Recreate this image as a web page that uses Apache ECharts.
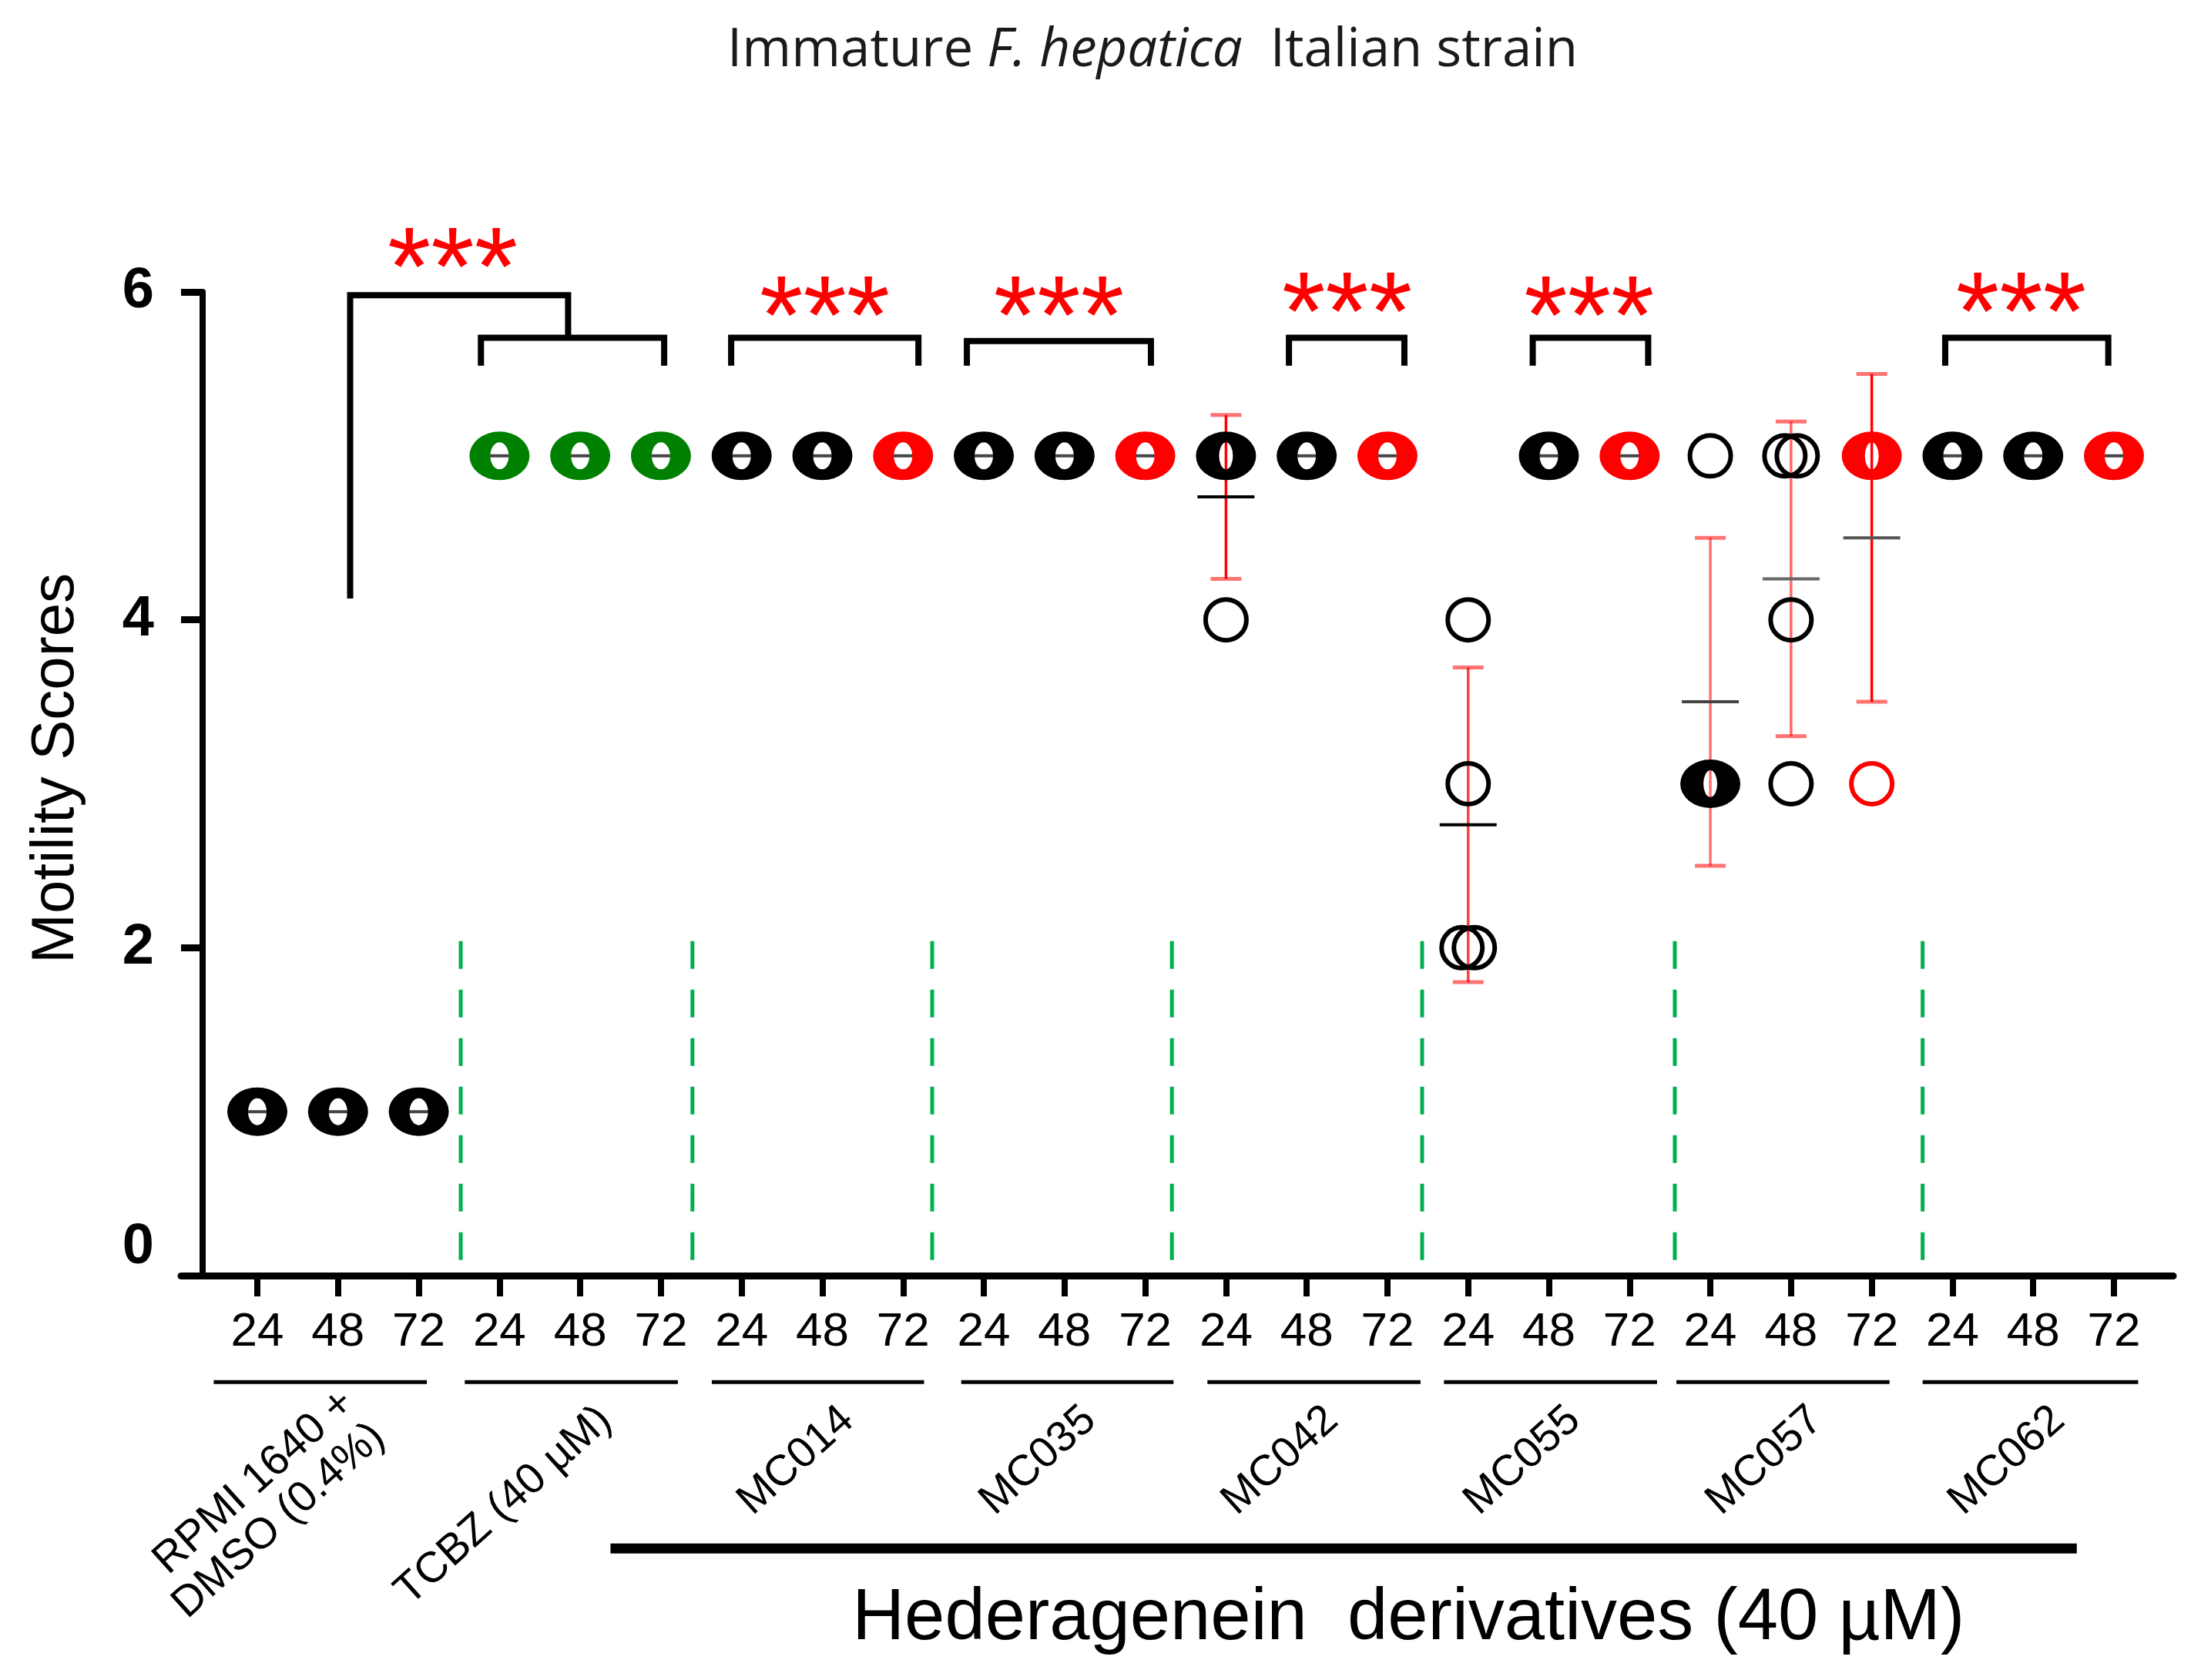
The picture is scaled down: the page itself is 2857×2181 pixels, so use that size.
<!DOCTYPE html>
<html><head><meta charset="utf-8">
<script src="https://cdn.jsdelivr.net/npm/echarts@6/dist/echarts.min.js"></script>
<style>html,body{margin:0;padding:0;background:#fff}#chart{width:2857px;height:2181px}</style>
</head><body><div id="chart"></div>
<script>
// ---------- data ----------
const treatments = ['RPMI 1640 +\nDMSO (0.4%)', 'TCBZ (40 µM)', 'MC014', 'MC035', 'MC042', 'MC055', 'MC057', 'MC062'];
const hours = ['24', '48', '72'];
// individual motility scores (4 flukes) at 24, 48, 72 h
const scoresRPMI  = [[1,1,1,1],[1,1,1,1],[1,1,1,1]];
const scoresTCBZ  = [[5,5,5,5],[5,5,5,5],[5,5,5,5]];
const scoresMC014 = [[5,5,5,5],[5,5,5,5],[5,5,5,5]];
const scoresMC035 = [[5,5,5,5],[5,5,5,5],[5,5,5,5]];
const scoresMC042 = [[5,5,5,4],[5,5,5,5],[5,5,5,5]];
const scoresMC055 = [[4,3,2,2],[5,5,5,5],[5,5,5,5]];
const scoresMC057 = [[5,3,3,3],[5,5,4,3],[5,5,5,3]];
const scoresMC062 = [[5,5,5,5],[5,5,5,5],[5,5,5,5]];
// mean and SD
const meanValues = [1,1,1, 5,5,5, 5,5,5, 5,5,5, 4.75,5,5, 2.75,5,5, 3.5,4.25,4.5, 5,5,5];
const sdValues   = [0,0,0, 0,0,0, 0,0,0, 0,0,0, 0.5,0,0, 0.96,0,0, 1,0.96,1, 0,0,0];
const yTickValues = [0, 2, 4, 6];
const sigLabel = '***';

// ---------- annotation geometry (axis units) ----------
const separatorX = [2.52, 5.39, 8.36, 11.33, 14.43, 17.56, 20.63];
const separatorSpan = [0.06, 2.04];
const brackets = [[2.77,5.04,5.72],[5.87,8.19,5.72],[8.79,11.07,5.70],[12.78,14.21,5.72],[15.80,17.23,5.72],[20.91,22.93,5.72]];
const bracketFoot = 5.55;
const controlLink = [[1.15,4.13],[1.15,5.98],[3.85,5.98],[3.85,5.72]];
const starPos = [[2.42,6.26],[7.03,5.96],[9.93,5.96],[13.5,5.985],[16.5,5.96],[21.85,5.985]];
const groupUnderline = [[-0.54,2.10],[2.57,5.21],[5.63,8.26],[8.72,11.35],[11.77,14.41],[14.70,17.34],[17.58,20.22],[20.63,23.30]];
const underlineY = -0.65;
const derivBar = [4.375, 22.54, -1.664];
const derivText = [14.26, -2.094, 'Hederagenein  derivatives (40 µM)'];

// ---------- derived ----------
const allScores = [].concat(scoresRPMI, scoresTCBZ, scoresMC014, scoresMC035, scoresMC042, scoresMC055, scoresMC057, scoresMC062);
const tickPos = allScores.map((_, i) => i);
const clusters = [];
allScores.forEach((arr, i) => {
  const counts = {};
  arr.forEach(v => { counts[v] = (counts[v] || 0) + 1; });
  Object.keys(counts).forEach(v => clusters.push([i, +v, counts[v]]));
});
const meanData = meanValues.map((m, i) => [i, m]);
const errData = [];
meanValues.forEach((m, i) => { if (sdValues[i] > 0) errData.push([i, m, sdValues[i]]); });

// ---------- styling ----------
const FONT = '"Liberation Sans", Arial, sans-serif';
function pointColor(i) {
  const g = Math.floor(i / 3), h = i % 3;
  if (g === 1) return '#008000';
  if (g >= 2 && h === 2) return '#ff0000';
  return '#000000';
}
const errOpacity = {12: 1, 15: 0.75, 18: 0.55, 19: 0.6, 20: 1};
const meanColor = {12: '#000', 15: '#000', 18: '#444', 19: '#666', 20: '#555'};
function ell(cx, cy, rx, ry, sweep) {
  return 'M' + (cx - rx) + ' ' + cy + ' A' + rx + ' ' + ry + ' 0 1 ' + sweep + ' ' + (cx + rx) + ' ' + cy +
         ' A' + rx + ' ' + ry + ' 0 1 ' + sweep + ' ' + (cx - rx) + ' ' + cy + ' Z ';
}
function circ(cx, cy, color) {
  return {type: 'circle', shape: {cx: cx, cy: cy, r: 26.5}, style: {fill: 'none', stroke: color, lineWidth: 6}};
}

const chart = echarts.init(document.getElementById('chart'), null, {renderer: 'canvas'});
const option = {
  animation: false,
  backgroundColor: '#ffffff',
  title: {
    text: '{n|Immature }{i|F. hepatica}{n|  Italian strain}',
    left: 939, top: 27,
    textStyle: {
      fontWeight: 'normal',
      rich: {
        n: {fontFamily: '"Open Sans", sans-serif', fontWeight: 'normal', fontSize: 69, color: '#1a1a1a', lineHeight: 69},
        i: {fontFamily: '"Open Sans", sans-serif', fontWeight: 'normal', fontStyle: 'italic', fontSize: 69, color: '#1a1a1a', lineHeight: 69}
      }
    }
  },
  grid: {left: 235, right: 36, top: 379, bottom: 525, outerBoundsMode: 'none', containLabel: false},
  xAxis: {
    type: 'value', min: -0.945, max: 23.735,
    axisLine: {show: true, onZero: false, lineStyle: {color: '#000', width: 9}},
    axisTick: {show: true, length: 27, customValues: tickPos, lineStyle: {color: '#000', width: 8}},
    axisLabel: {show: true, customValues: tickPos, margin: 43, formatter: v => hours[Math.round(v) % 3],
      fontFamily: FONT, fontSize: 62, color: '#000'},
    splitLine: {show: false}
  },
  yAxis: {
    type: 'value', min: 0, max: 6, interval: 2, offset: -28,
    axisLine: {show: true, onZero: false, lineStyle: {color: '#000', width: 8}},
    axisTick: {show: true, length: 28, lineStyle: {color: '#000', width: 9}},
    axisLabel: {margin: 63, color: '#000', customValues: yTickValues,
      formatter: v => v === 0 ? '{z|0}' : '{a|' + v + '}',
      rich: {
        a: {fontFamily: FONT, fontWeight: 'bold', fontSize: 74, color: '#000'},
        z: {fontFamily: FONT, fontWeight: 'bold', fontSize: 74, color: '#000', padding: [0, 0, 72, 0]}
      }},
    splitLine: {show: false},
    name: 'Motility Scores', nameLocation: 'middle', nameRotate: 90, nameGap: 151,
    nameTextStyle: {fontFamily: FONT, fontSize: 78, color: '#000', padding: [0, 0, 0, 40]}
  },
  series: [
    { // green dashed separators
      type: 'custom', z: 1, data: separatorX.map(x => [x, separatorSpan[0]]),
      renderItem: (p, api) => {
        const a = api.coord([api.value(0), separatorSpan[1]]);
        const b = api.coord([api.value(0), separatorSpan[0]]);
        return {type: 'line', shape: {x1: a[0], y1: a[1], x2: b[0], y2: b[1]},
          style: {stroke: '#00b050', lineWidth: 5, lineDash: [36, 27]}};
      }
    },
    { // error bars (mean ± SD)
      type: 'custom', z: 2, data: errData,
      renderItem: (p, api) => {
        const i = api.value(0), m = api.value(1), s = api.value(2);
        const top = api.coord([i, m + s]), bot = api.coord([i, m - s]);
        const op = errOpacity[i] || 1;
        return {type: 'group', children: [
          {type: 'line', shape: {x1: top[0], y1: top[1], x2: bot[0], y2: bot[1]}, style: {stroke: '#ff0000', lineWidth: 3.5, opacity: op}},
          {type: 'line', shape: {x1: top[0] - 20, y1: top[1], x2: top[0] + 20, y2: top[1]}, style: {stroke: '#ff0000', lineWidth: 5, opacity: 0.55}},
          {type: 'line', shape: {x1: bot[0] - 20, y1: bot[1], x2: bot[0] + 20, y2: bot[1]}, style: {stroke: '#ff0000', lineWidth: 5, opacity: 0.55}}
        ]};
      }
    },
    { // mean lines
      type: 'custom', z: 3, data: meanData,
      renderItem: (p, api) => {
        const i = api.value(0);
        const c = api.coord([i, api.value(1)]);
        return {type: 'line', shape: {x1: c[0] - 37, y1: c[1], x2: c[0] + 37, y2: c[1]},
          style: {stroke: meanColor[i] || '#444', lineWidth: 4}};
      }
    },
    { // individual flukes (overlapping symbols)
      type: 'custom', z: 4, data: clusters,
      renderItem: (p, api) => {
        const i = api.value(0), v = api.value(1), k = api.value(2);
        const c = api.coord([i, v]);
        const color = pointColor(i);
        if (k >= 3) {
          const hx = k >= 4 ? 12 : 9;
          return {type: 'path', shape: {pathData: ell(c[0], c[1], 39, 31.5, 0) + ell(c[0], c[1], hx, 17.5, 1)},
            style: {fill: color, stroke: 'none'}};
        }
        if (k === 2) return {type: 'group', children: [circ(c[0] - 8, c[1], color), circ(c[0] + 8, c[1], color)]};
        return circ(c[0], c[1], color);
      }
    },
    { // significance brackets
      type: 'custom', z: 5, data: brackets,
      renderItem: (p, api) => {
        const x1 = api.value(0), x2 = api.value(1), y = api.value(2);
        const pts = [[x1, bracketFoot], [x1, y], [x2, y], [x2, bracketFoot]].map(q => api.coord(q));
        return {type: 'polyline', shape: {points: pts}, style: {stroke: '#000', lineWidth: 8, fill: 'none', lineJoin: 'miter'}};
      }
    },
    { // control link bracket
      type: 'custom', z: 5, data: [[controlLink[0][0], controlLink[0][1]]],
      renderItem: (p, api) => ({type: 'polyline', shape: {points: controlLink.map(q => api.coord(q))},
        style: {stroke: '#000', lineWidth: 8, fill: 'none', lineJoin: 'miter'}})
    },
    { // stars
      type: 'custom', z: 6, data: starPos,
      renderItem: (p, api) => {
        const c = api.coord([api.value(0), api.value(1)]);
        return {type: 'text', x: c[0], y: c[1] + 0.22 * 145, style: {text: sigLabel, fontFamily: FONT, fontSize: 145,
          fill: '#ff0000', align: 'center', verticalAlign: 'middle'}};
      }
    },
    { // group underlines
      type: 'custom', z: 5, data: groupUnderline.map(g => [g[0], g[1]]),
      renderItem: (p, api) => {
        const a = api.coord([api.value(0), underlineY]), b = api.coord([api.value(1), underlineY]);
        return {type: 'line', shape: {x1: a[0], y1: a[1], x2: b[0], y2: b[1]}, style: {stroke: '#000', lineWidth: 5}};
      }
    },
    { // group names (rotated)
      type: 'custom', z: 5, data: treatments.map((t, g) => [3 * g + 1, 0]),
      renderItem: (p, api) => {
        const c = api.coord([api.value(0), 0]);
        return {type: 'text', x: c[0] + 33, y: c[1] + 180, rotation: 42 * Math.PI / 180,
          style: {text: treatments[p.dataIndex], fontFamily: FONT, fontSize: 56, lineHeight: 59,
            fill: '#000', align: 'right', verticalAlign: 'middle'}};
      }
    },
    { // derivatives bar + caption
      type: 'custom', z: 5, data: [[derivBar[0], derivBar[2]]],
      renderItem: (p, api) => {
        const a = api.coord([derivBar[0], derivBar[2]]), b = api.coord([derivBar[1], derivBar[2]]);
        const t = api.coord([derivText[0], derivText[1]]);
        return {type: 'group', children: [
          {type: 'line', shape: {x1: a[0], y1: a[1], x2: b[0], y2: b[1]}, style: {stroke: '#000', lineWidth: 13}},
          {type: 'text', x: t[0], y: t[1], style: {text: derivText[2], fontFamily: FONT, fontSize: 94, fill: '#000',
            align: 'center', verticalAlign: 'middle'}}
        ]};
      }
    }
  ]
};
chart.setOption(option);
</script></body></html>
